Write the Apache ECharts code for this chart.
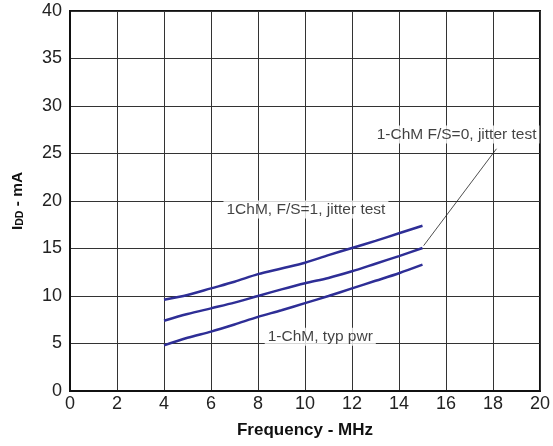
<!DOCTYPE html>
<html>
<head>
<meta charset="utf-8">
<script src="https://cdn.jsdelivr.net/npm/echarts@6/dist/echarts.min.js"></script>
<style>
  html, body { margin: 0; padding: 0; background: #fff; }
  #chart { width: 553px; height: 446px; }
</style>
</head>
<body>
<div id="chart"></div>
<script>
// Supply current vs. frequency, three operating modes
const freqMHz = [4, 5, 6, 7, 8, 9, 10, 11, 12, 13, 14, 15];
const jitterFS1 = [9.6, 10.1, 10.8, 11.5, 12.3, 12.9, 13.5, 14.3, 15.05, 15.8, 16.6, 17.4];
const jitterFS0 = [7.4, 8.1, 8.7, 9.3, 10.0, 10.7, 11.35, 11.9, 12.6, 13.4, 14.2, 15.05];
const typPwr = [4.8, 5.6, 6.25, 7.0, 7.8, 8.5, 9.25, 10.0, 10.8, 11.6, 12.4, 13.3];

const xTicks = { min: 0, max: 20, step: 2 };
const yTicks = { min: 0, max: 40, step: 5 };

// Annotation texts with their anchor points in data units
const notes = [
  { text: '1ChM, F/S=1, jitter test', at: [10.04, 19.1] },
  { text: '1-ChM F/S=0, jitter test', at: [16.45, 27.0] },
  { text: '1-ChM, typ pwr', at: [10.65, 5.7] }
];
// Leader from the F/S=0 label to the end of its curve
const leader = [[18.15, 25.5], [15.05, 15.3]];

const lineColor = '#2e2e96';
const font = 'Liberation Sans, Arial, sans-serif';

function pairs(xs, ys) { return xs.map((x, i) => [x, ys[i]]); }

const chart = echarts.init(document.getElementById('chart'));

const noteStyle = {
  show: true,
  position: 'inside',
  color: '#111',
  fontFamily: font,
  fontSize: 15.5,
  backgroundColor: '#fff',
  padding: [1, 3, 1, 3]
};

chart.setOption({
  animation: false,
  backgroundColor: '#fff',
  grid: {
    left: 70, right: 9, top: 11, bottom: 55,
    show: true, borderColor: '#111', borderWidth: 2
  },
  xAxis: {
    type: 'value',
    min: xTicks.min, max: xTicks.max, interval: xTicks.step,
    name: 'Frequency - MHz',
    nameLocation: 'middle',
    nameGap: 31,
    nameTextStyle: { fontFamily: font, fontSize: 17, fontWeight: 'bold', color: '#111' },
    axisLine: { show: true, lineStyle: { color: '#111', width: 2 } },
    axisTick: { show: false },
    axisLabel: { fontFamily: font, fontSize: 18, color: '#222', margin: 4 },
    splitLine: { show: true, lineStyle: { color: '#333', width: 1 } }
  },
  yAxis: {
    type: 'value',
    min: yTicks.min, max: yTicks.max, interval: yTicks.step,
    name: '{a|I}{b|DD}{a| - mA}',
    nameLocation: 'middle',
    nameGap: 44,
    nameTextStyle: {
      fontFamily: font, color: '#111',
      rich: {
        a: { fontFamily: font, fontSize: 15.5, fontWeight: 'bold', color: '#111' },
        b: { fontFamily: font, fontSize: 10.5, fontWeight: 'bold', color: '#111', verticalAlign: 'bottom', padding: [6, 0, 0, 0] }
      }
    },
    axisLine: { show: true, lineStyle: { color: '#111', width: 2 } },
    axisTick: { show: false },
    axisLabel: { fontFamily: font, fontSize: 18, color: '#222', margin: 8 },
    splitLine: { show: true, lineStyle: { color: '#333', width: 1 } }
  },
  series: [
    {
      name: '1ChM, F/S=1, jitter test', type: 'line', smooth: 0.3, showSymbol: false,
      lineStyle: { color: lineColor, width: 2.5 },
      data: pairs(freqMHz, jitterFS1), z: 3
    },
    {
      name: '1-ChM F/S=0, jitter test', type: 'line', smooth: 0.3, showSymbol: false,
      lineStyle: { color: lineColor, width: 2.5 },
      data: pairs(freqMHz, jitterFS0), z: 3,
      markLine: {
        silent: true, symbol: ['none', 'none'],
        lineStyle: { color: '#222', width: 0.8, type: 'solid' },
        label: { show: false },
        data: [[{ coord: leader[0] }, { coord: leader[1] }]]
      }
    },
    {
      name: '1-ChM, typ pwr', type: 'line', smooth: 0.3, showSymbol: false,
      lineStyle: { color: lineColor, width: 2.5 },
      data: pairs(freqMHz, typPwr), z: 3
    },
    {
      name: 'notes', type: 'scatter', symbolSize: 1, z: 2,
      itemStyle: { color: 'rgba(0,0,0,0)' },
      label: Object.assign({}, noteStyle, { formatter: p => p.data.text }),
      data: notes.map(n => ({ value: n.at, text: n.text }))
    }
  ]
});
</script>
</body>
</html>
